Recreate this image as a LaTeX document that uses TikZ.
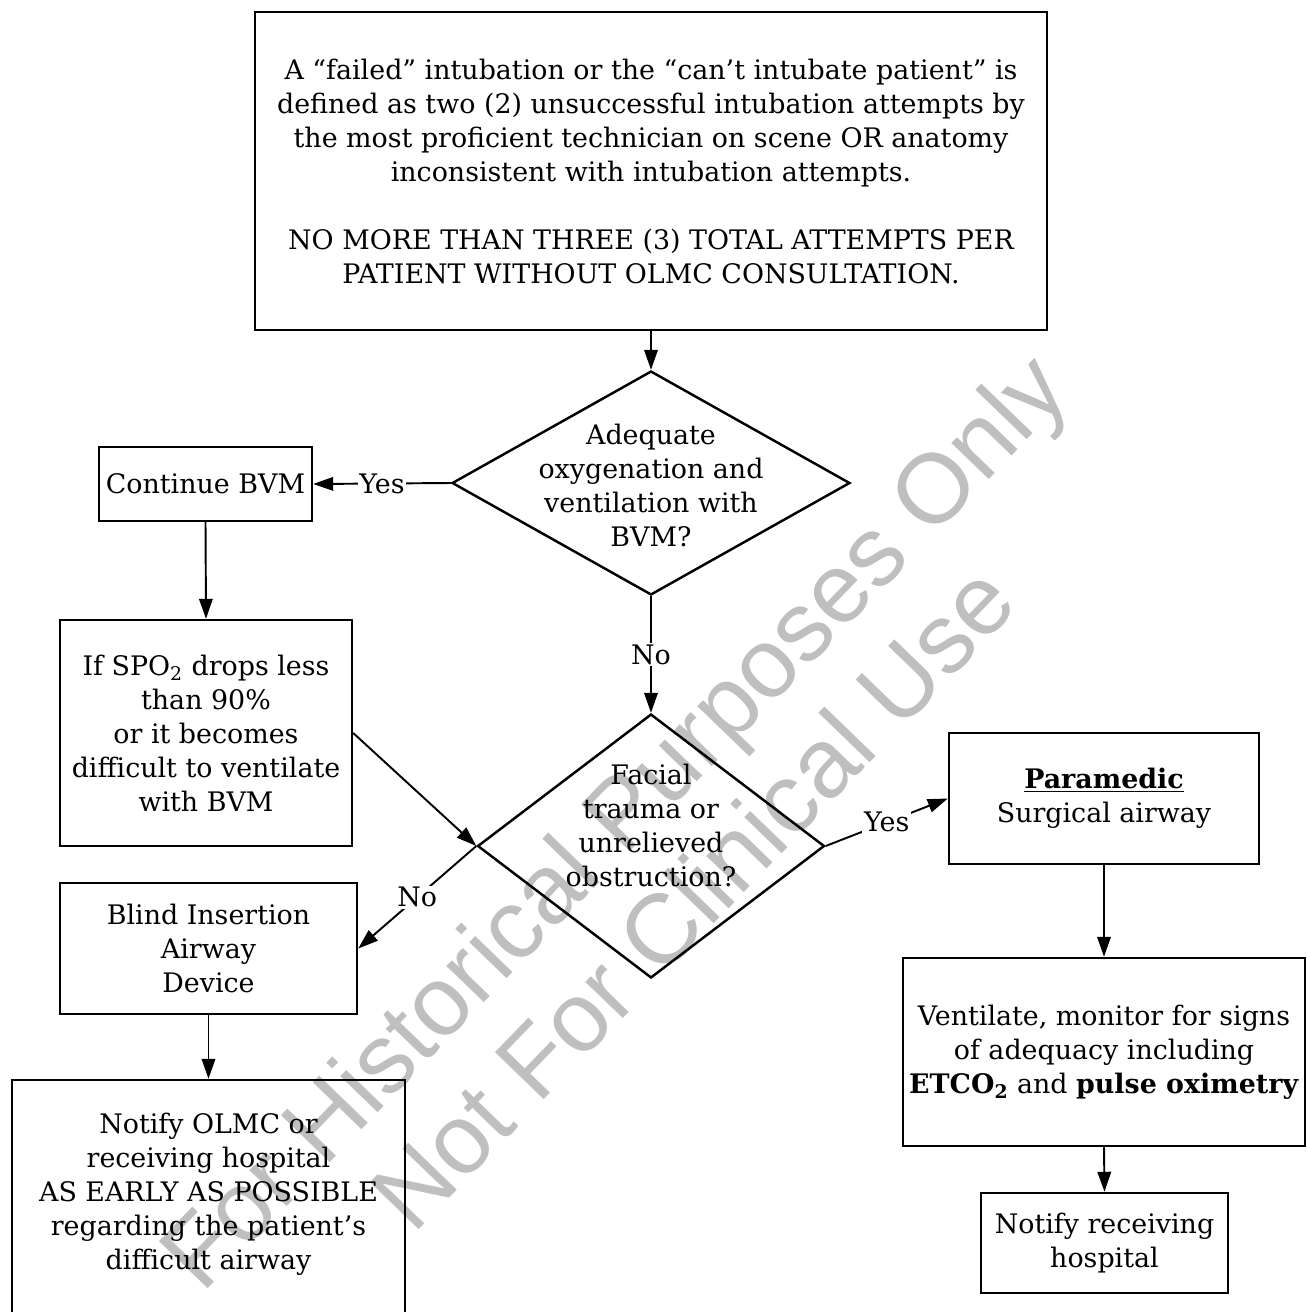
\documentclass[tikz,border=0pt]{standalone}
\usepackage{fontspec}
\setmainfont{DejaVu Serif}
\newfontfamily\wmfont{Liberation Sans}
\usetikzlibrary{shapes.geometric,arrows.meta}

\tikzset{
  box/.style={draw,rectangle,line width=1.4pt,align=center,inner sep=0pt},
  decision/.style={draw,diamond,line width=1.4pt,inner sep=0pt},
  conn/.style={line width=1.1pt,-{Triangle[length=0.4cm,width=0.27cm]}},
  lbl/.style={fill=white,inner sep=1pt},
  wm/.style={text=black!25,align=center,rotate=46,
    font=\wmfont\fontsize{56}{63}\selectfont},
}

\begin{document}
\begin{tikzpicture}[x=0.02cm,y=-0.02cm,font=\fontsize{15.3}{19.35}\selectfont]
  \useasboundingbox (0,0) rectangle (1307,1312);

  % Watermark behind everything
  \node[wm] (wmark) at (652,858) {For Historical Purposes Only\\Not For Clinical Use};

  % Definition box
  \node[box,minimum width=15.84cm,minimum height=6.36cm] (defn) at (651,171)
    {A “failed” intubation or the “can’t intubate patient” is\\
     defined as two (2) unsuccessful intubation attempts by\\
     the most proficient technician on scene OR anatomy\\
     inconsistent with intubation attempts.\\[19.35pt]
     NO MORE THAN THREE (3) TOTAL ATTEMPTS PER\\
     PATIENT WITHOUT OLMC CONSULTATION.};

  % First question
  \node[decision,minimum width=7.96cm,minimum height=4.48cm] (adequate) at (651,483) {};
  \node[align=center] (adequateText) at (651,485)
    {Adequate\\oxygenation and\\ventilation with\\BVM?};

  % Left branch
  \node[box,minimum width=4.26cm,minimum height=1.48cm] (bvm) at (205.5,484) {Continue BVM};
  \node[box,minimum width=5.84cm,minimum height=4.52cm] (spo) at (206,733)
    {If SPO\textsubscript{2} drops less\\than 90\%\\or it becomes\\difficult to ventilate\\with BVM};

  % Second question
  \node[decision,minimum width=6.94cm,minimum height=5.28cm] (trauma) at (651,846) {};
  \node[align=center] (traumaText) at (651,825)
    {Facial\\trauma or\\unrelieved\\obstruction?};

  % No branch
  \node[box,minimum width=5.94cm,minimum height=2.62cm] (blind) at (208.5,948.5)
    {Blind Insertion\\Airway\\Device};
  \node[box,minimum width=7.86cm,minimum height=4.9cm] (olmc) at (208.5,1202.5) {};
  \node[align=center] (olmcText) at (208.5,1194)
    {Notify OLMC or\\receiving hospital\\AS EARLY AS POSSIBLE\\regarding the patient’s\\difficult airway};

  % Yes branch
  \node[box,minimum width=6.2cm,minimum height=2.62cm] (surgical) at (1104,798.5)
    {\underline{\textbf{Paramedic}}\\Surgical airway};
  \node[box,minimum width=8.04cm,minimum height=3.76cm] (vent) at (1104,1052)
    {Ventilate, monitor for signs\\of adequacy including\\
     \textbf{ETCO\textsubscript{2}} and \textbf{pulse oximetry}};
  \node[box,minimum width=4.94cm,minimum height=2cm] (notify) at (1104.5,1243)
    {Notify receiving\\hospital};

  % Connectors
  \draw[conn] (defn.south) -- (adequate.north);
  \draw[conn] (adequate.west) -- node[lbl] {Yes} (bvm.east);
  \draw[conn] (bvm.south) -- (spo.north);
  \draw[conn] (adequate.south) -- node[lbl] {No} (trauma.north);
  \draw[conn] (spo.east) -- (trauma.west);
  \draw[conn] (trauma.west) -- node[lbl] {No} (blind.east);
  \draw[conn] (blind.south) -- (olmc.north);
  \draw[conn] (trauma.east) -- node[lbl] {Yes} (surgical.west);
  \draw[conn] (surgical.south) -- (vent.north);
  \draw[conn] (vent.south) -- (notify.north);
\end{tikzpicture}
\end{document}
